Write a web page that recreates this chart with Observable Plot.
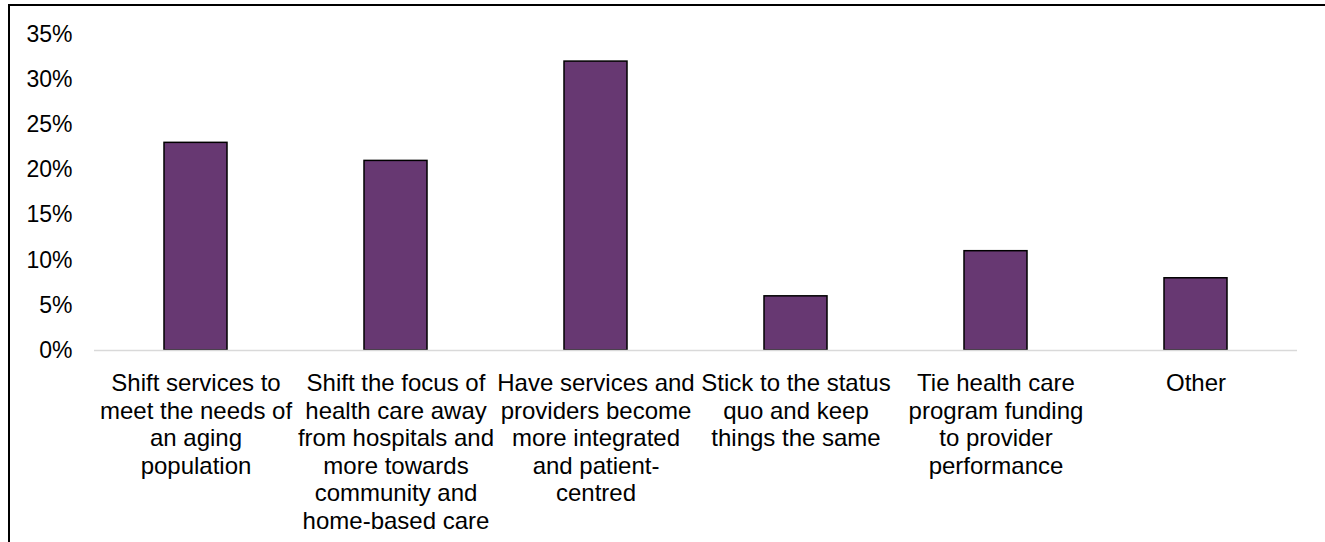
<!DOCTYPE html>
<html>
<head>
<meta charset="utf-8">
<script src="https://cdn.jsdelivr.net/npm/d3@7"></script>
<script src="https://cdn.jsdelivr.net/npm/@observablehq/plot@0.6"></script>
<style>
  html, body { margin: 0; padding: 0; background: #fff; }
  #wrap { position: relative; width: 1325px; height: 542px; overflow: hidden; }
  #wrap svg { position: absolute; left: 0; top: 0; }
  .bt { position: absolute; left: 8px; top: 4px; width: 1317px; height: 2px; background: #000; }
  .bl { position: absolute; left: 7.5px; top: 4px; width: 2px; height: 538px; background: #000; }
</style>
</head>
<body>
<div id="wrap"></div>
<script>
const categories = [
  "Shift services to meet the needs of an aging population",
  "Shift the focus of health care away from hospitals and more towards community and home-based care",
  "Have services and providers become more integrated and patient-centred",
  "Stick to the status quo and keep things the same",
  "Tie health care program funding to provider performance",
  "Other"
];
const labelLines = [
  "Shift services to\nmeet the needs of\nan aging\npopulation",
  "Shift the focus of\nhealth care away\nfrom hospitals and\nmore towards\ncommunity and\nhome-based care",
  "Have services and\nproviders become\nmore integrated\nand patient-\ncentred",
  "Stick to the status\nquo and keep\nthings the same",
  "Tie health care\nprogram funding\nto provider\nperformance",
  "Other"
];
const values = [23, 21, 32, 6, 11, 8];
const yTicks = [0, 5, 10, 15, 20, 25, 30, 35];

const data = categories.map((c, i) => ({category: c, value: values[i]}));
const labelOf = new Map(categories.map((c, i) => [c, labelLines[i]]));

const chart = Plot.plot({
  width: 1325,
  height: 542,
  marginLeft: 94,
  marginRight: 28,
  marginTop: 34,
  marginBottom: 192,
  style: {fontFamily: "'Liberation Sans', Arial, sans-serif", fontSize: "23px", color: "#000", background: "transparent"},
  x: {domain: categories, paddingInner: 0.685, paddingOuter: 0.3425, label: null},
  y: {domain: [0, 35], label: null},
  marks: [
    Plot.axisY({ticks: yTicks, tickFormat: d => d + "%", tickSize: 0, tickPadding: 22, fontSize: 23, fill: "#000"}),
    Plot.axisX({tickSize: 0, tickPadding: 21, tickFormat: d => labelOf.get(d), fontSize: 24, lineHeight: 1.146, fill: "#000"}),
    Plot.barY(data, {x: "category", y: "value", fill: "#673872", stroke: "#000", strokeWidth: 1.5}),
    Plot.ruleY([0], {stroke: "#d9d9d9", strokeWidth: 1.5})
  ]
});
const wrap = document.getElementById("wrap");
wrap.appendChild(chart);
const bt = document.createElement("div"); bt.className = "bt"; wrap.appendChild(bt);
const bl = document.createElement("div"); bl.className = "bl"; wrap.appendChild(bl);
</script>
</body>
</html>
